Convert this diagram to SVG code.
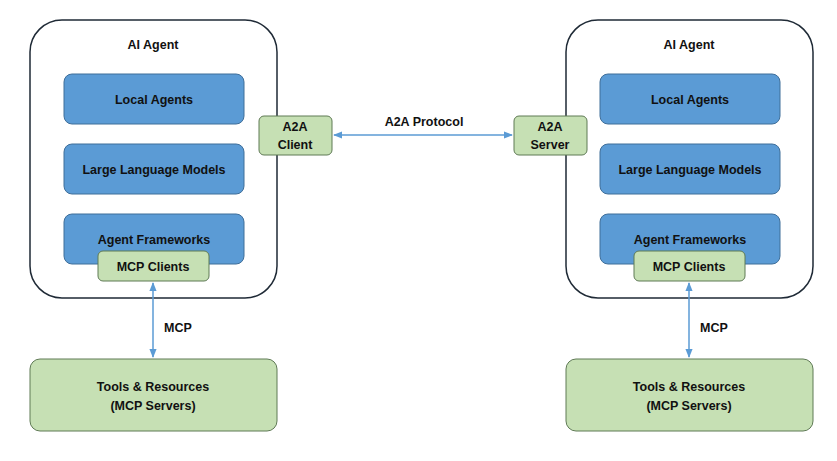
<svg xmlns="http://www.w3.org/2000/svg" width="837" height="461" viewBox="0 0 837 461">
<style>
text{font-family:"Liberation Sans",Arial,sans-serif;font-weight:bold;font-size:12.5px;fill:#111;text-anchor:middle}
.outer{fill:#fff;stroke:#1f2a36;stroke-width:1.5}
.blue{fill:#5b9bd5;stroke:#3f6e99;stroke-width:1}
.green{fill:#c6e0b4;stroke:#5f7a55;stroke-width:1}
.con{stroke:#5b9bd5;stroke-width:1.5;fill:none;marker-start:url(#a);marker-end:url(#a)}
</style>
<defs><marker id="a" viewBox="0 0 10 10" refX="9" refY="5" markerWidth="6" markerHeight="6" orient="auto-start-reverse"><path d="M0,1 L10,5 L0,9 z" fill="#5b9bd5"/></marker></defs>
<rect width="837" height="461" fill="#fff"/>
<g id="agentL"><rect class="outer" x="30" y="20" width="247" height="278" rx="32"/><text x="153" y="49">AI Agent</text></g>
<g id="localL"><rect class="blue" x="64" y="74" width="180" height="50" rx="8"/><text x="154" y="104">Local Agents</text></g>
<g id="llmL"><rect class="blue" x="64" y="144" width="180" height="50" rx="8"/><text x="154" y="174">Large Language Models</text></g>
<g id="afL"><rect class="blue" x="64" y="214" width="180" height="50" rx="8"/><text x="154" y="244">Agent Frameworks</text></g>
<g id="mcpcL"><rect class="green" x="98" y="251" width="111" height="30" rx="5"/><text x="153" y="271">MCP Clients</text></g>
<g id="a2ac"><rect class="green" x="259" y="116" width="73" height="39" rx="5"/><text x="295" y="131">A2A</text><text x="295" y="149">Client</text></g>
<g id="agentR"><rect class="outer" x="566" y="20" width="247" height="278" rx="32"/><text x="689" y="49">AI Agent</text></g>
<g id="localR"><rect class="blue" x="600" y="74" width="180" height="50" rx="8"/><text x="690" y="104">Local Agents</text></g>
<g id="llmR"><rect class="blue" x="600" y="144" width="180" height="50" rx="8"/><text x="690" y="174">Large Language Models</text></g>
<g id="afR"><rect class="blue" x="600" y="214" width="180" height="50" rx="8"/><text x="690" y="244">Agent Frameworks</text></g>
<g id="mcpcR"><rect class="green" x="634" y="251" width="111" height="30" rx="5"/><text x="689" y="271">MCP Clients</text></g>
<g id="a2as"><rect class="green" x="514" y="116" width="73" height="39" rx="5"/><text x="550" y="131">A2A</text><text x="550" y="149">Server</text></g>
<g id="toolsL"><rect class="green" x="30" y="359" width="247" height="72" rx="10"/><text x="153" y="391">Tools &amp; Resources</text><text x="153" y="410">(MCP Servers)</text></g>
<g id="toolsR"><rect class="green" x="566" y="359" width="247" height="72" rx="10"/><text x="689" y="391">Tools &amp; Resources</text><text x="689" y="410">(MCP Servers)</text></g>
<g id="connectors">
<line class="con" x1="334" y1="135" x2="512" y2="135"/>
<line class="con" x1="153" y1="283" x2="153" y2="357"/>
<line class="con" x1="689" y1="283" x2="689" y2="357"/>
<text x="424" y="126">A2A Protocol</text>
<text x="178" y="332">MCP</text>
<text x="714" y="332">MCP</text>
</g>
</svg>
